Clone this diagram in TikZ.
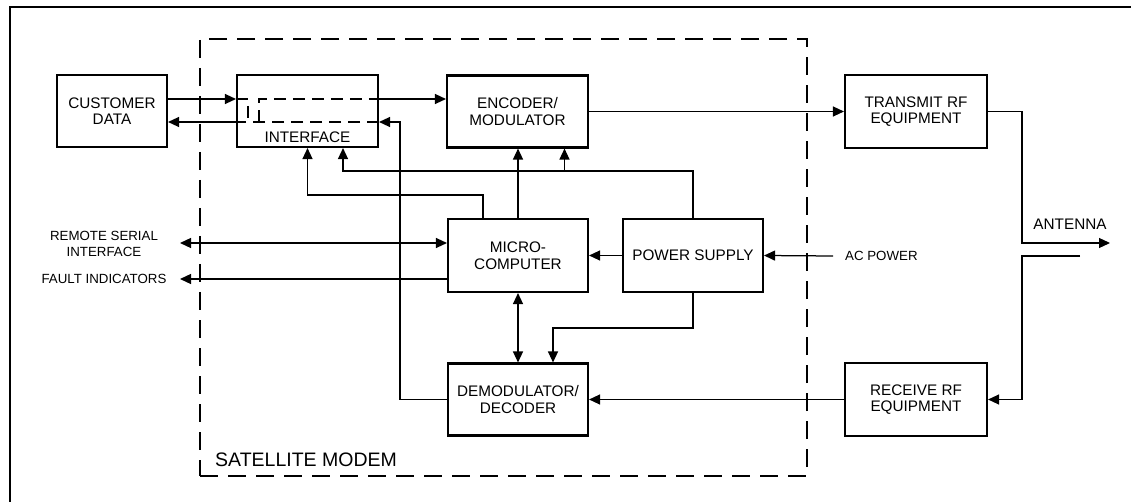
\documentclass[tikz,border=0pt]{standalone}
\usepackage{fontspec}
\setmainfont{Liberation Sans}
\usetikzlibrary{arrows.meta}
\newcommand\bxfont{\fontsize{15.3}{16.5}\selectfont}
\newcommand\sdfont{\fontsize{13.3}{16}\selectfont}
\newcommand\mdmfont{\fontsize{19.5}{22}\selectfont}
\begin{document}
\begin{tikzpicture}[x=1pt,y=-1pt,
  box/.style={draw,line width=2.1pt,minimum width=141pt,minimum height=72pt,align=center,font=\bxfont,inner sep=0pt},
  conn/.style={line width=1.25pt},
  tip/.tip={Triangle[length=11pt,width=10pt]},
  arr/.style={conn,-tip},
  darr/.style={conn,tip-tip},
  inner/.style={line width=2.3pt,dash pattern=on 12pt off 7pt},
  modembox/.style={draw,line width=2.7pt,dash pattern=on 18pt off 10pt,minimum width=607pt,minimum height=437pt,inner sep=0pt},
  frame/.style={line width=2.2pt},
  lbl/.style={font=\bxfont,inner sep=0pt,align=center},
  side/.style={font=\sdfont,inner sep=0pt,align=center}]
\useasboundingbox (0,0) rectangle (1131,502);

% frame
\draw[frame] (10,502) -- (10,7) -- (1131,7);

% satellite modem boundary
\node[modembox] (modem) at (503.5,257.5) {};
\node[font=\mdmfont,anchor=base west,inner sep=0pt] (modemlbl) at (215,466) {SATELLITE MODEM};

% boxes
\node[box,minimum width=110pt] (cust) at (112,111) {CUSTOMER\\DATA};
\node[box] (iface) at (307.5,111) {};
\node[lbl] (ifacet) at ([yshift=-26pt]iface.center) {INTERFACE};
\node[box] (enc) at (517.5,111.5) {ENCODER/\\MODULATOR};
\node[box,minimum width=142pt,minimum height=73pt] (tx) at (916,111.5) {TRANSMIT RF\\EQUIPMENT};
\node[box,minimum width=140pt,minimum height=73pt] (micro) at (518,255.5) {MICRO-\\COMPUTER};
\node[box,minimum width=140pt,minimum height=73pt] (ps) at (693,255.5) {POWER SUPPLY};
\node[box,minimum width=140pt] (demod) at (518,399.5) {DEMODULATOR/\\DECODER};
\node[box,minimum width=142pt,minimum height=73pt] (rx) at (916,399.5) {RECEIVE RF\\EQUIPMENT};

% side labels
\node[side] (rsi) at (104,244) {REMOTE SERIAL\\INTERFACE};
\node[side] (fault) at (104,279) {FAULT INDICATORS};
\node[side,anchor=west] (acp) at (845,256) {AC POWER};
\node[lbl] (ant) at (1070,224) {ANTENNA};

% helper coordinates
\coordinate (rsiend) at (180,243);
\coordinate (faultend) at (180,279);
\coordinate (antout) at (1110,243);
\coordinate (antin) at (1080,256);
\coordinate (busP) at (0,172);
\coordinate (e2) at ([xshift=47pt]enc.south);
\coordinate (rxc) at ([xshift=34pt]rx.east);

% customer <-> interface
\draw[arr] ([yshift=12pt]cust.east) -- ([yshift=12pt]iface.west);
\draw[arr] ([yshift=-11pt]iface.west) -- ([yshift=-11pt]cust.east);
% paths inside the interface
\draw[inner] ([yshift=12pt]iface.west) -- ++(12,0) -- ++(0,23);
\draw[inner] ([yshift=-11pt]iface.east) -- ([yshift=-11pt]iface.west);
\draw[inner] ([xshift=23pt,yshift=-11pt]iface.west) -- ([xshift=23pt,yshift=12pt]iface.west) -- ([yshift=12pt]iface.east);
% interface -> encoder
\draw[arr] ([yshift=12pt]iface.east) -- ([yshift=12pt]iface.east -| enc.west);
% demodulator -> interface
\draw[arr] (demod.west) -- ++(-47,0) |- ([yshift=-11pt]iface.east);
% microcomputer -> encoder, interface
\draw[arr] (micro.north) -- (micro.north |- enc.south);
\draw[arr] ([xshift=-35pt]micro.north) -- ++(0,-23) -| (iface.south);
% power supply -> interface, encoder
\draw[arr] (ps.north) -- ++(0,-47) -| ([xshift=35.5pt]iface.south);
\draw[arr] (e2 |- busP) -- (e2);
% power supply -> micro, demod
\draw[arr] (ps.west) -- (micro.east);
\draw[arr] (ps.south) -- ++(0,35) -| ([xshift=35pt]demod.north);
\draw[arr] ([xshift=-12pt]acp.west) -- (ps.east);
% micro <-> demod
\draw[darr] (micro.south) -- (demod.north);
% external interfaces
\draw[darr] (rsiend) -- (rsiend -| micro.west);
\draw[arr] (faultend -| micro.west) -- (faultend);
% RF chain
\draw[arr] (enc.east) -- (tx.west);
\draw[arr] (tx.east) -- ++(34,0) |- (antout);
\draw[arr] (antin) -| (rxc) -- (rx.east);
\draw[arr] (rx.west) -- (demod.east);
\end{tikzpicture}
\end{document}
